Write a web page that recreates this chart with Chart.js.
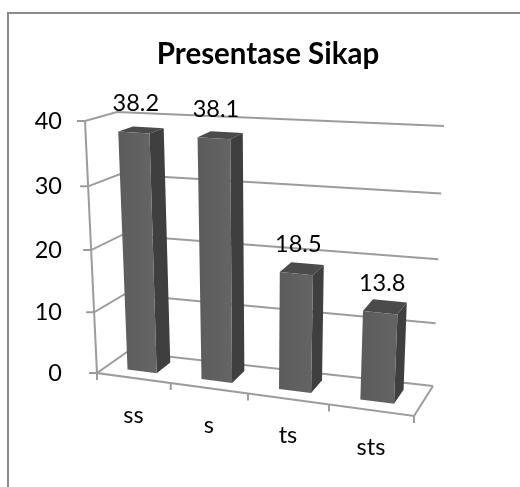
<!DOCTYPE html>
<html>
<head>
<meta charset="utf-8">
<title>Presentase Sikap</title>
<script src="https://cdn.jsdelivr.net/npm/chart.js@4"></script>
<style>
  html, body { margin: 0; padding: 0; background: #fff; }
  #wrap { position: relative; width: 520px; height: 487px; }
</style>
</head>
<body>
<div id="wrap"><canvas id="chart" width="520" height="487"></canvas></div>
<script>
// Chart data
const categories = ["ss", "s", "ts", "sts"];
const values = [38.2, 38.1, 18.5, 13.8];
const yTicks = [0, 10, 20, 30, 40];

const FONT = "Lato, 'Open Sans', sans-serif";
const LINE = "#9c9c9c";

// Corners of the 3D plot box on screen: u left-right, v bottom-top, w front-back
const box = {
  frontBottomLeft: [97, 373], frontBottomRight: [414, 416],
  backBottomLeft: [127, 352], backBottomRight: [433, 386],
  frontTopLeft: [85, 121], frontTopRight: [427, 144],
  backTopLeft: [117, 112], backTopRight: [444, 126],
};
const BAR_FRONT = 0.3;
const BAR_BACK = 0.78;

function mix(a, b, t) {
  return [a[0] + (b[0] - a[0]) * t, a[1] + (b[1] - a[1]) * t];
}

// Maps a point of the box to the screen, with a little perspective on u and v
function project(u, v, w) {
  let pu = u / (1 + 0.1 * (1 - u));
  let pv = v / (1 + 0.05 * (1 - v));
  let bottom = mix(mix(box.frontBottomLeft, box.frontBottomRight, pu), mix(box.backBottomLeft, box.backBottomRight, pu), w);
  let top = mix(mix(box.frontTopLeft, box.frontTopRight, pu), mix(box.backTopLeft, box.backTopRight, pu), w);
  return mix(bottom, top, pv);
}

function polyline(ctx, points, color, width) {
  ctx.beginPath();
  points.forEach((p, i) => (i ? ctx.lineTo(p[0], p[1]) : ctx.moveTo(p[0], p[1])));
  ctx.strokeStyle = color;
  ctx.lineWidth = width;
  ctx.stroke();
}

function polygon(ctx, points, fill) {
  ctx.beginPath();
  points.forEach((p, i) => (i ? ctx.lineTo(p[0], p[1]) : ctx.moveTo(p[0], p[1])));
  ctx.closePath();
  ctx.fillStyle = fill;
  ctx.fill();
}

// Draws frame, walls, floor, bars and labels from the library's scales and bar elements
const bar3d = {
  id: "bar3d",
  afterDatasetsDraw(chart) {
    let ctx = chart.ctx;
    let area = chart.chartArea;
    let yScale = chart.scales.y;
    let toU = (px) => (px - area.left) / area.width;
    let toV = (py) => (area.bottom - py) / area.height;

    ctx.save();
    ctx.lineCap = "butt";

    // Outer frame
    polyline(ctx, [[8, 487], [8, 13], [520, 13]], "#8a8a8a", 2);

    // Gridlines on the back and left walls, with y ticks
    ctx.font = "23.5px " + FONT;
    ctx.fillStyle = "#000";
    ctx.textAlign = "right";
    ctx.textBaseline = "middle";
    yTicks.forEach((tick) => {
      let v = toV(yScale.getPixelForValue(tick));
      let front = project(0, v, 0);
      polyline(ctx, [[front[0] - 8, front[1]], front, project(0, v, 1), project(1, v, 1)], LINE, 2);
      ctx.fillStyle = "#000";
      ctx.fillText(String(tick), 62, front[1]);
    });

    // Vertical axis and floor outline
    polyline(ctx, [project(0, 1, 0), project(0, 0, 0), project(1, 0, 0), project(1, 0, 1)], LINE, 2);

    // Category ticks
    for (let i = 0; i <= categories.length; i++) {
      let p = project(i / categories.length, 0, 0);
      polyline(ctx, [p, [p[0], p[1] + 7]], LINE, 2);
    }

    // Bars
    let bars = chart.getDatasetMeta(0).data;
    bars.forEach((bar) => {
      let left = toU(bar.x - bar.width / 2);
      let right = toU(bar.x + bar.width / 2);
      let top = toV(bar.y);
      let base = toV(bar.base);
      let fl = project(left, base, BAR_FRONT);
      let fr = project(right, base, BAR_FRONT);
      let tl = project(left, top, BAR_FRONT);
      let tr = project(right, top, BAR_FRONT);
      let bbr = project(right, base, BAR_BACK);
      let tbr = project(right, top, BAR_BACK);
      let tbl = project(left, top, BAR_BACK);

      polygon(ctx, [tl, tr, tbr, tbl], "#4b4b4b");
      polygon(ctx, [tr, tbr, bbr, fr], "#3f3f3f");
      let grad = ctx.createLinearGradient(tl[0], 0, tr[0], 0);
      grad.addColorStop(0, "#5c5c5c");
      grad.addColorStop(1, "#646464");
      polygon(ctx, [tl, tr, fr, fl], grad);
    });

    // Category labels and value labels, on top of everything
    ctx.textAlign = "center";
    ctx.textBaseline = "middle";
    ctx.fillStyle = "#000";
    ctx.font = "23.5px " + FONT;
    bars.forEach((bar, i) => {
      let u = toU(bar.x);
      let axis = project(u, 0, 0);
      ctx.fillText(categories[i], axis[0], axis[1] + 37);
      let head = project(u, toV(bar.y), BAR_FRONT);
      ctx.fillText(values[i].toFixed(1), head[0] + 2, head[1] - 29);
    });
    ctx.restore();
  },
};

new Chart(document.getElementById("chart"), {
  type: "bar",
  data: {
    labels: categories,
    datasets: [
      {
        label: "Presentase Sikap",
        data: values,
        backgroundColor: "transparent",
        barPercentage: 0.4,
        categoryPercentage: 1,
      },
    ],
  },
  options: {
    responsive: false,
    animation: false,
    layout: { padding: { left: 16 } },
    plugins: {
      legend: { display: false },
      tooltip: { enabled: false },
      title: {
        display: true,
        text: "Presentase Sikap",
        color: "#000",
        font: { family: FONT, size: 29.5, weight: "bold" },
        padding: { top: 37, bottom: 10 },
      },
    },
    scales: {
      x: { display: false },
      y: {
        display: false,
        min: yTicks[0],
        max: yTicks[yTicks.length - 1],
        afterBuildTicks: (scale) => {
          scale.ticks = yTicks.map((v) => ({ value: v }));
        },
      },
    },
  },
  plugins: [bar3d],
});
</script>
</body>
</html>
